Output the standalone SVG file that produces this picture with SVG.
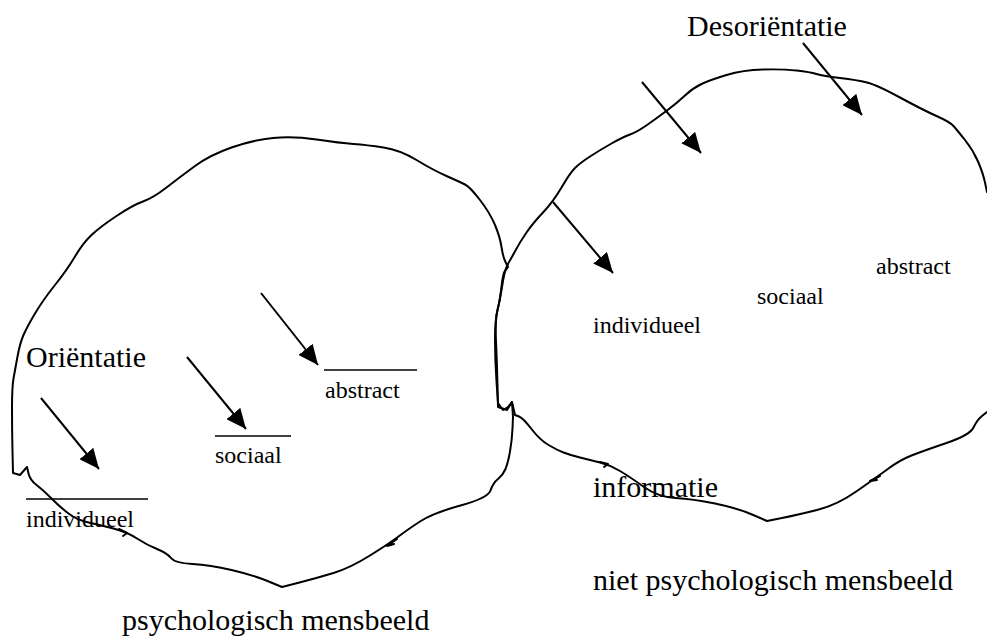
<svg xmlns="http://www.w3.org/2000/svg" width="987" height="637" viewBox="0 0 987 637">
<style>
.blob{fill:none;stroke:#000;stroke-width:2;stroke-linejoin:round;stroke-linecap:round}
.arr{fill:none;stroke:#000;stroke-width:2;marker-end:url(#ah)}
.ul{stroke:#000;stroke-width:1.3}
text{font-family:"Liberation Serif","Times New Roman",serif;fill:#000}
.big{font-size:30px}
.sm{font-size:24px}
</style>
<defs>
<marker id="ah" markerUnits="userSpaceOnUse" markerWidth="22" markerHeight="18" refX="20" refY="9" orient="auto">
<path d="M0,0 L20,9 L0,18 Z" fill="#000"/>
</marker>
</defs>
<rect width="987" height="637" fill="#fff"/>
<g id="left-blob">
<path class="blob" d="M353.5,144 Q367,145 383.5,147.5 Q400,150 416.5,160 Q433,170 446.5,176 Q460,182 465,184.5 Q470,187 480,200 Q490,213 495,225 Q500,237 501.5,247 Q503,257 505.5,262 L508,267 L505.5,270 Q503,273 501.5,286.5 Q500,300 497.5,310 Q495,320 496,341.5 Q497,363 497.5,385 L498,407 L507,410 L512,402 L513,417 L512.5,428.5 Q512,440 510,451.5 Q508,463 505.5,469 Q503,475 498,479 Q493,483 490.5,490.5 Q488,498 460.5,505.5 Q433,513 420,521.5 Q407,530 398.5,536.5 Q390,543 370,555.5 Q350,568 333.5,573 Q317,578 299.5,582.5 L282,587 L267.5,581 Q253,575 231.5,570 Q210,565 192.5,564 Q175,563 171,558 Q167,553 157,549 Q147,545 137,538.5 Q127,532 113.5,528.5 Q100,525 88.5,522.5 Q77,520 68.5,513.5 Q60,507 51.5,498.5 Q43,490 36.5,485 Q30,480 28.5,473.5 L27,467 L20,475 L13,473 L12.5,451.5 Q12,430 12,408.5 Q12,387 13.5,378.5 Q15,370 17.5,356.5 Q20,343 23.5,335 Q27,327 35,313.5 Q43,300 55,285 Q67,270 75,256.5 Q83,243 91.5,235 Q100,227 116.5,216 Q133,205 143,201.5 Q153,198 166.5,187.5 Q180,177 195,166 Q210,155 231.5,147.5 Q253,140 273,138 Q293,136 316.5,139.5 Q340,143 353.5,144 Z"/>
<path class="blob" d="M119,529 L127,533 L123,536"/>
<path class="blob" d="M397,539 L387,546 L394,544"/>
</g>
<g id="right-blob">
<path class="blob" d="M987,192 L985,182.5 Q983,173 978,161.5 Q973,150 965,140 Q957,130 953.5,126 Q950,122 936.5,116 Q923,110 900,97.5 Q877,85 867,82.5 Q857,80 840,78 Q823,76 816.5,74 Q810,72 796.5,70.5 Q783,69 763,69.5 Q743,70 726.5,75 Q710,80 701.5,84 Q693,88 685,95.5 Q677,103 667,110.5 Q657,118 647,125 Q637,132 630,134.5 Q623,137 611.5,143.5 Q600,150 590,156.5 Q580,163 575,168 Q570,173 561.5,187.5 Q553,202 543,212.5 Q533,223 526.5,232.5 Q520,242 516,249.5 Q512,257 509,262 Q506,267 504.5,273.5 Q503,280 501.5,290 Q500,300 497.5,310 Q495,320 495,340 Q495,360 496.5,381.5 L498,403 L503,410 L508,407 L512,402 L515,415 L519,416.5 Q523,418 531.5,429 Q540,440 548.5,445 Q557,450 563.5,452.5 Q570,455 580,457.5 Q590,460 600,462.5 Q610,465 620,471 Q630,477 644,487 Q658,497 675.5,498 Q693,499 715,503.5 Q737,508 752,514.5 L767,521 L782,518 Q797,515 817,510 Q837,505 857,491 Q877,477 888.5,468.5 Q900,460 911.5,455.5 Q923,451 946.5,443 Q970,435 973.5,427.5 Q977,420 982,416 L987,412"/>
<path class="blob" d="M600,462 L608,464 L604,467"/>
<path class="blob" d="M880,476 L870,481 L877,480"/>
</g>
<g id="connectors">
<line class="arr" x1="41" y1="398" x2="99" y2="469"/>
<line class="arr" x1="187" y1="357" x2="246" y2="429"/>
<line class="arr" x1="261" y1="293" x2="318" y2="365"/>
<line class="arr" x1="642" y1="82" x2="701" y2="153"/>
<line class="arr" x1="803" y1="43" x2="862" y2="115"/>
<line class="arr" x1="553" y1="202" x2="613" y2="273"/>
</g>
<g id="orientatie">
<text class="big" x="26" y="367">Oriëntatie</text>
</g>
<g id="left-individueel">
<line class="ul" x1="26" y1="499" x2="148" y2="499"/>
<text class="sm" x="26" y="527">individueel</text>
</g>
<g id="left-sociaal">
<line class="ul" x1="215" y1="436" x2="291" y2="436"/>
<text class="sm" x="215" y="463">sociaal</text>
</g>
<g id="left-abstract">
<line class="ul" x1="324" y1="370" x2="417" y2="370"/>
<text class="sm" x="325" y="398">abstract</text>
</g>
<g id="psych">
<text class="big" x="122" y="630">psychologisch mensbeeld</text>
</g>
<g id="desorientatie">
<text class="big" x="687" y="36">Desoriëntatie</text>
</g>
<g id="right-individueel"><text class="sm" x="593" y="333">individueel</text></g>
<g id="right-sociaal"><text class="sm" x="757" y="304">sociaal</text></g>
<g id="right-abstract"><text class="sm" x="876" y="274">abstract</text></g>
<g id="informatie"><text class="big" x="593" y="497">informatie</text></g>
<g id="niet-psych"><text class="big" x="593" y="590">niet psychologisch mensbeeld</text></g>
</svg>
